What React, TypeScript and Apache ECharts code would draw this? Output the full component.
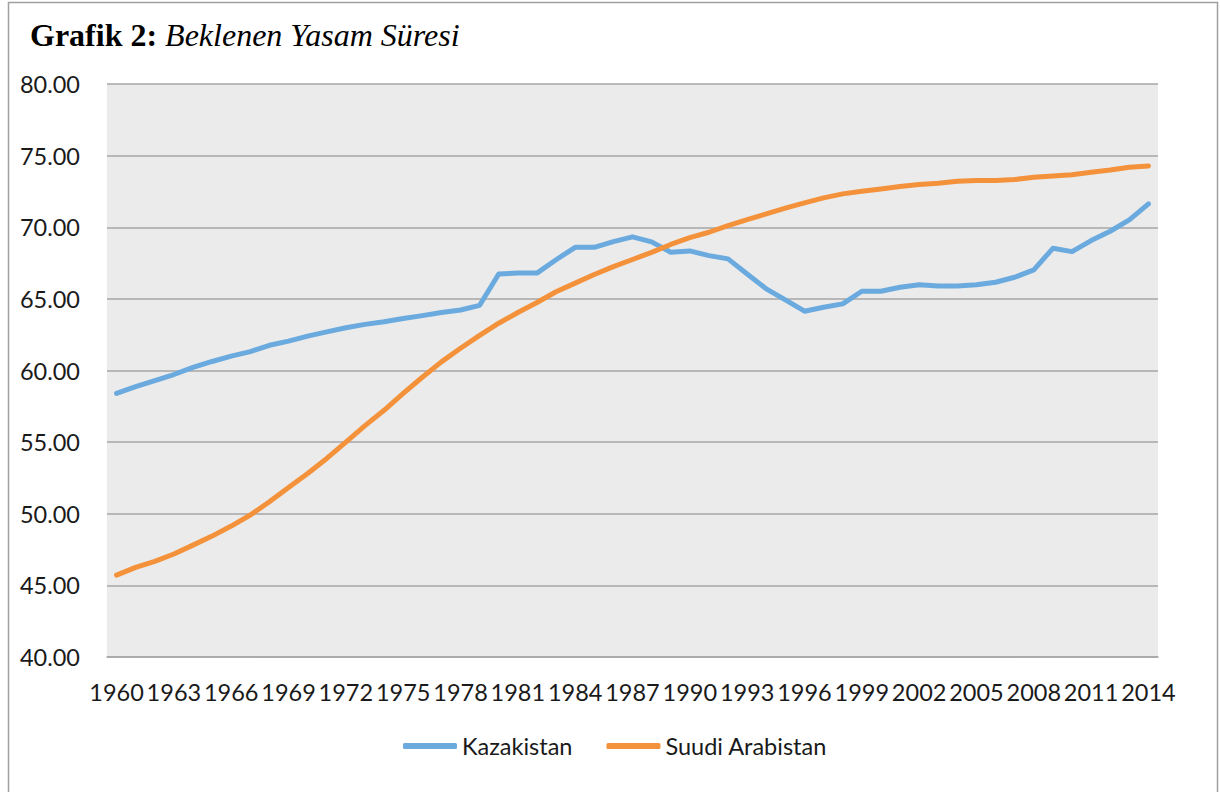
import React, { useEffect, useRef } from "react";
import * as echarts from "echarts";

const years: string[] = [
  "1960","1961","1962","1963","1964","1965","1966","1967","1968","1969",
  "1970","1971","1972","1973","1974","1975","1976","1977","1978","1979",
  "1980","1981","1982","1983","1984","1985","1986","1987","1988","1989",
  "1990","1991","1992","1993","1994","1995","1996","1997","1998","1999",
  "2000","2001","2002","2003","2004","2005","2006","2007","2008","2009",
  "2010","2011","2012","2013","2014",
];

const kazakistan: number[] = [
  58.40, 58.87, 59.30, 59.72, 60.22, 60.63, 61.00, 61.32, 61.76, 62.05,
  62.40, 62.70, 62.98, 63.22, 63.40, 63.63, 63.83, 64.05, 64.22, 64.55,
  66.74, 66.80, 66.80, 67.73, 68.60, 68.60, 69.00, 69.33, 68.98, 68.26,
  68.35, 68.02, 67.79, 66.74, 65.70, 64.93, 64.14, 64.42, 64.65, 65.53,
  65.53, 65.81, 65.98, 65.90, 65.90, 65.98, 66.16, 66.51, 67.02, 68.53,
  68.30, 69.07, 69.72, 70.51, 71.63,
];

const suudiArabistan: number[] = [
  45.72, 46.26, 46.68, 47.19, 47.81, 48.44, 49.14, 49.91, 50.84, 51.84,
  52.81, 53.86, 55.00, 56.15, 57.22, 58.40, 59.53, 60.60, 61.55, 62.45,
  63.30, 64.05, 64.75, 65.50, 66.10, 66.70, 67.25, 67.75, 68.25, 68.80,
  69.28, 69.65, 70.12, 70.53, 70.93, 71.33, 71.70, 72.05, 72.33, 72.51,
  72.67, 72.84, 72.98, 73.07, 73.21, 73.26, 73.26, 73.33, 73.49, 73.58,
  73.67, 73.84, 74.00, 74.19, 74.28,
];

const seriesNames = ["Kazakistan", "Suudi Arabistan"];
const titleBold = "Grafik 2:";
const titleItalic = "Beklenen Yasam Süresi";

const FONT = "Lato, 'Open Sans', sans-serif";
const SERIF = "'Liberation Serif', 'Times New Roman', serif";

export default function App() {
  const ref = useRef<HTMLDivElement>(null);

  useEffect(() => {
    if (!ref.current) return;
    const chart = echarts.init(ref.current, null, { renderer: "svg" });
    chart.setOption({
      animation: false,
      backgroundColor: "#ffffff",
      title: {
        left: 25,
        top: 14,
        text: `{b|${titleBold}} {i|${titleItalic}}`,
        textStyle: {
          fontFamily: SERIF,
          fontSize: 32,
          fontWeight: "normal",
          color: "#000",
          rich: {
            b: {
              fontFamily: SERIF,
              fontWeight: "bold",
              fontSize: 32,
              color: "#000",
            },
            i: {
              fontFamily: SERIF,
              fontStyle: "italic",
              fontWeight: "normal",
              fontSize: 32,
              color: "#000",
            },
          },
        },
      },
      graphic: [
        {
          type: "rect",
          shape: { x: 8.5, y: 2.5, width: 1209, height: 800 },
          style: { fill: "none", stroke: "#a0a0a0", lineWidth: 1.5 },
          silent: true,
          z: 100,
        },
      ],
      legend: {
        left: 398,
        top: 729,
        icon: "roundRect",
        itemWidth: 54,
        itemHeight: 6,
        itemGap: 34,
        data: seriesNames,
        textStyle: { fontFamily: FONT, fontSize: 23.5, color: "#1a1a1a" },
      },
      grid: {
        left: 107,
        right: 62,
        top: 84,
        bottom: 135,
        containLabel: false,
        show: true,
        backgroundColor: "#ebebeb",
        borderWidth: 0,
      },
      xAxis: {
        type: "category",
        data: years,
        boundaryGap: true,
        axisLine: { show: true, lineStyle: { color: "#a6a6a6", width: 1.5 } },
        axisTick: { show: false },
        axisLabel: {
          interval: 2,
          margin: 23,
          fontFamily: FONT,
          fontSize: 23.5,
          color: "#1a1a1a",
        },
      },
      yAxis: {
        type: "value",
        min: 40,
        max: 80,
        interval: 5,
        axisLine: { show: false },
        axisTick: { show: false },
        splitLine: { show: true, lineStyle: { color: "#a6a6a6", width: 1.5 } },
        axisLabel: {
          margin: 27,
          fontFamily: FONT,
          fontSize: 23.5,
          color: "#1a1a1a",
          formatter: (v: number) => v.toFixed(2),
        },
      },
      series: [
        {
          name: seriesNames[0],
          type: "line",
          data: kazakistan,
          showSymbol: false,
          symbol: "none",
          lineStyle: { color: "#6aaadf", width: 5, cap: "round", join: "round" },
          itemStyle: { color: "#6aaadf" },
        },
        {
          name: seriesNames[1],
          type: "line",
          data: suudiArabistan,
          showSymbol: false,
          symbol: "none",
          lineStyle: { color: "#f4923c", width: 5, cap: "round", join: "round" },
          itemStyle: { color: "#f4923c" },
        },
      ],
    });
    return () => chart.dispose();
  }, []);

  return (
    <div
      ref={ref}
      style={{ position: "absolute", left: 0, top: 0, width: 1220, height: 792, background: "#fff" }}
    />
  );
}
